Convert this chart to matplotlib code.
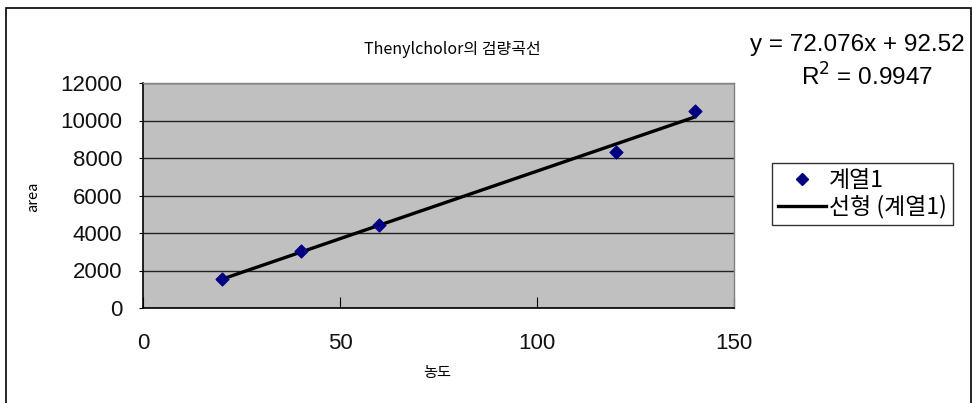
import matplotlib
matplotlib.use('Agg')
import matplotlib.pyplot as plt
from matplotlib.lines import Line2D
from matplotlib.patches import Rectangle

plt.rcParams['font.family'] = ['Liberation Sans', 'Noto Sans CJK KR']

# concentration vs. peak area
conc = [20, 40, 60, 120, 140]
area = [1570, 3030, 4420, 8320, 10520]

# linear trendline coefficients
slope = 72.076
intercept = 92.52
r_squared = 0.9947

x_ticks = [0, 50, 100, 150]
y_ticks = [0, 2000, 4000, 6000, 8000, 10000, 12000]

fig = plt.figure(figsize=(9.72, 4.03), dpi=100)
fig.patch.set_facecolor('white')

# chart frame
fig.add_artist(Rectangle((6 / 972, -0.1), 965 / 972, 1.1 - 8 / 403,
                         transform=fig.transFigure, fill=False,
                         edgecolor='black', linewidth=1.2))

ax = fig.add_axes([143 / 972, 1 - 308 / 403, 591 / 972, 225 / 403])
ax.set_facecolor('#c0c0c0')
ax.set_xlim(0, 150)
ax.set_ylim(0, 12000)
ax.set_xticks(x_ticks)
ax.set_yticks(y_ticks)
ax.yaxis.grid(True, color='#222222', linewidth=1)
ax.set_axisbelow(True)

for side in ['top', 'right']:
    ax.spines[side].set_color('#808080')
    ax.spines[side].set_linewidth(1)
for side in ['left', 'bottom']:
    ax.spines[side].set_color('black')
    ax.spines[side].set_linewidth(1.2)

ax.tick_params(axis='x', direction='in', length=8, pad=18, labelsize=16,
               labelcolor='#111111')
ax.tick_params(axis='y', direction='out', length=3, pad=12, labelsize=16,
               labelcolor='#111111')

fit_x = [conc[0], conc[-1]]
fit_y = [slope * v + intercept for v in fit_x]
ax.plot(fit_x, fit_y, color='black', linewidth=2.4, zorder=3)
ax.scatter(conc, area, marker='D', s=42, color='#000080', zorder=4,
           clip_on=False)

fig.text(452 / 972, 1 - 50 / 403, 'Thenylcholor의 검량곡선',
         ha='center', va='center', fontsize=11.5,
         family=['Noto Sans CJK KR'])
fig.text(33 / 972, 1 - 197 / 403, 'area', rotation=90,
         ha='center', va='center', fontsize=10.5,
         family=['Noto Sans CJK KR'])
fig.text(437 / 972, 1 - 373 / 403, '농도', ha='center', va='center',
         fontsize=11, family=['Noto Sans CJK KR'])

fig.text(965 / 972, 1 - 45 / 403, f'y = {slope}x + {intercept}',
         ha='right', va='center', fontsize=17.5)
fig.text(867 / 972, 1 - 77 / 403, f'R$^2$ = {r_squared}',
         ha='center', va='center', fontsize=17.5)

handles = [
    Line2D([], [], linestyle='none', marker='D', markersize=6.5,
           color='#000080'),
    Line2D([], [], color='black', linewidth=2.4),
]
leg = fig.legend(handles, ['계열1', '선형 (계열1)'],
                 loc='upper left',
                 bbox_to_anchor=(772 / 972, 1 - 163 / 403),
                 bbox_transform=fig.transFigure,
                 prop={'family': ['Noto Sans CJK KR'], 'size': 16.5},
                 frameon=True, fancybox=False, handlelength=2.1,
                 handletextpad=0.15, borderpad=0.25, labelspacing=0.15,
                 borderaxespad=0)
leg.get_frame().set_edgecolor('black')
leg.get_frame().set_linewidth(1)

fig.savefig('out.png', dpi=100)
